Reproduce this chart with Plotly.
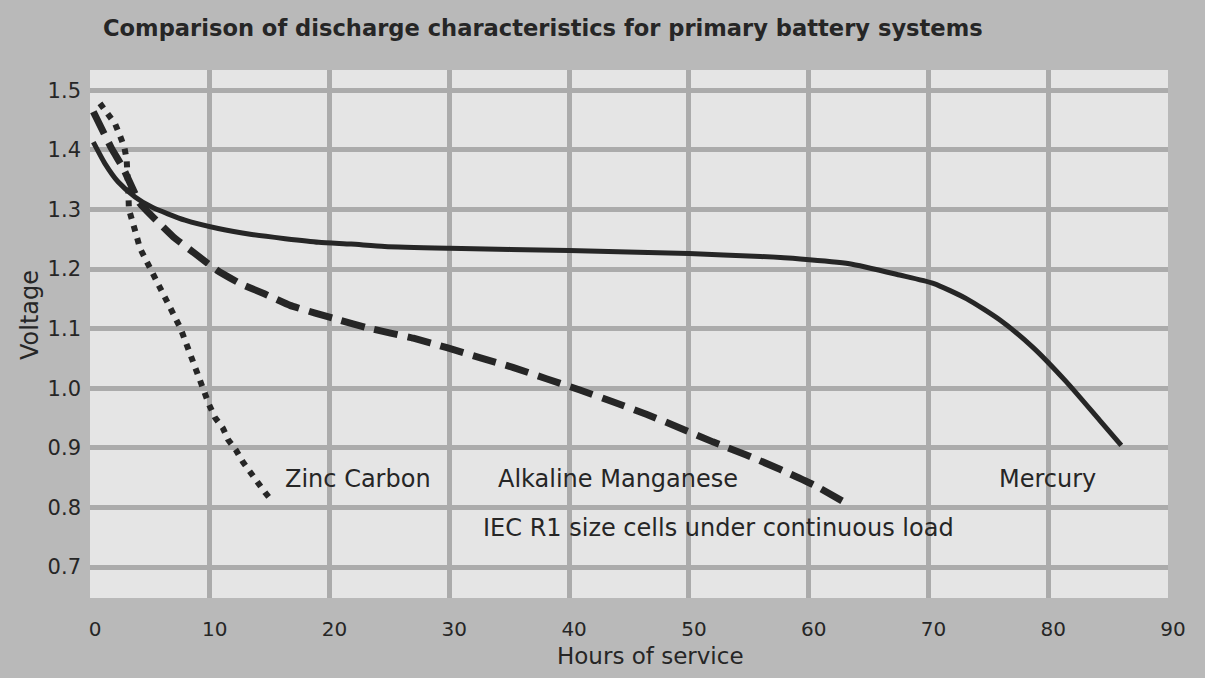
import plotly.graph_objects as go

# ---- data ----
mercury_h = [0.28, 1.25, 2.36, 3.76, 5.15, 7.93, 10.7, 13.5, 16.3, 19.1, 21.8, 24.6, 30.0, 40.0, 50.0,
             56.0, 59.3, 63.4, 67.6, 70.4, 73.2, 76.0, 78.7, 81.5, 84.3, 86.1]
mercury_v = [1.413, 1.377, 1.346, 1.321, 1.304, 1.282, 1.268, 1.258, 1.251, 1.245, 1.242, 1.238, 1.235,
             1.231, 1.226, 1.221, 1.217, 1.209, 1.190, 1.176, 1.150, 1.114, 1.069, 1.011, 0.946, 0.904]

alkaline_h = [0.28, 1.81, 2.78, 4.17, 6.95, 8.76, 10.6, 12.5, 14.6, 16.7, 18.8, 20.9, 23.0, 25.0, 27.0,
              29.8, 32.6, 35.3, 38.1, 40.9, 43.7, 46.5, 49.3, 52.0, 54.8, 57.6, 60.4, 63.4]
alkaline_v = [1.464, 1.402, 1.369, 1.310, 1.254, 1.226, 1.198, 1.176, 1.158, 1.139, 1.126, 1.114, 1.102,
              1.093, 1.084, 1.068, 1.051, 1.035, 1.016, 0.997, 0.977, 0.956, 0.933, 0.910, 0.888, 0.864,
              0.838, 0.804]

zinc_h = [0.83, 1.53, 2.09, 2.50, 2.86, 3.06, 3.15, 3.20, 3.25, 3.53, 3.87, 4.17, 4.68, 5.09, 5.57, 6.12,
          6.59, 7.10, 7.57, 8.01, 8.43, 8.76, 9.10, 9.52, 9.93, 10.43, 11.10, 11.52, 12.19, 12.77, 13.36,
          13.94, 14.61, 15.28]
zinc_v = [1.478, 1.461, 1.444, 1.424, 1.405, 1.384, 1.361, 1.33, 1.30, 1.277, 1.257, 1.235, 1.214, 1.196,
          1.177, 1.158, 1.139, 1.119, 1.100, 1.075, 1.055, 1.035, 1.013, 0.993, 0.973, 0.951, 0.933,
          0.914, 0.896, 0.876, 0.859, 0.841, 0.825, 0.809]

x_ticks = [0, 10, 20, 30, 40, 50, 60, 70, 80, 90]
y_ticks = [0.7, 0.8, 0.9, 1.0, 1.1, 1.2, 1.3, 1.4, 1.5]
y_tick_text = ["0.7", "0.8", "0.9", "1.0", "1.1", "1.2", "1.3", "1.4", "1.5"]

labels = ["Zinc Carbon", "Alkaline Manganese", "Mercury"]
label_h = [22.4, 44.1, 79.9]
label_v = [0.848, 0.848, 0.848]

note_text = "IEC R1 size cells under continuous load"
note_h, note_v = 52.5, 0.766

title_text = "Comparison of discharge characteristics for primary battery systems"

# ---- styling ----
INK = "#262626"
FONT = "DejaVu Sans"

fig = go.Figure()
fig.add_trace(go.Scatter(x=zinc_h, y=zinc_v, mode="lines", name="Zinc Carbon",
                         line=dict(color=INK, width=6, dash="6px,7px")))
fig.add_trace(go.Scatter(x=alkaline_h, y=alkaline_v, mode="lines", name="Alkaline Manganese",
                         line=dict(color=INK, width=7, dash="24px,10px", shape="spline", smoothing=0.3)))
fig.add_trace(go.Scatter(x=mercury_h, y=mercury_v, mode="lines", name="Mercury",
                         line=dict(color=INK, width=5, shape="spline", smoothing=0.6)))

annotations = []
for t, h, v in zip(labels, label_h, label_v):
    annotations.append(dict(x=h, y=v, xref="x", yref="y", text=t, showarrow=False,
                            xanchor="center", yanchor="middle",
                            font=dict(family=FONT, size=24, color=INK)))
annotations.append(dict(x=note_h, y=note_v, xref="x", yref="y", text=note_text, showarrow=False,
                        xanchor="center", yanchor="middle",
                        font=dict(family=FONT, size=24, color=INK)))
annotations.append(dict(x=-0.0557, y=0.536, xref="paper", yref="paper", text="Voltage",
                        textangle=-90, showarrow=False, xanchor="center", yanchor="middle",
                        font=dict(family=FONT, size=24, color=INK)))
annotations.append(dict(x=0.5204, y=-0.110, xref="paper", yref="paper", text="Hours of service",
                        showarrow=False, xanchor="center", yanchor="middle",
                        font=dict(family=FONT, size=23, color=INK)))

fig.update_layout(
    width=1205, height=678,
    margin=dict(l=90, r=37, t=70, b=80),
    paper_bgcolor="#b9b9b9",
    plot_bgcolor="#e5e5e5",
    showlegend=False,
    title=dict(text="<b>" + title_text + "</b>", x=103 / 1205, xref="container", xanchor="left",
               y=1 - 28 / 678, yref="container", yanchor="middle",
               font=dict(family=FONT, size=22.6, color=INK)),
    annotations=annotations,
    xaxis=dict(range=[0, 90], tickvals=x_ticks, showgrid=True, gridcolor="#ababab", gridwidth=5,
               zeroline=False, showline=False, ticks="", ticklabelstandoff=17, ticklabelshift=5,
               tickfont=dict(family=FONT, size=20, color=INK)),
    yaxis=dict(range=[0.648, 1.534], tickvals=y_ticks, ticktext=y_tick_text, showgrid=True,
               gridcolor="#ababab", gridwidth=5, zeroline=False, showline=False, ticks="",
               ticklabelstandoff=8, tickfont=dict(family=FONT, size=21, color=INK)),
)

fig.write_html("out.html", config={"displayModeBar": False},
               post_script="document.body.style.margin='0';document.body.style.overflow='hidden';")
